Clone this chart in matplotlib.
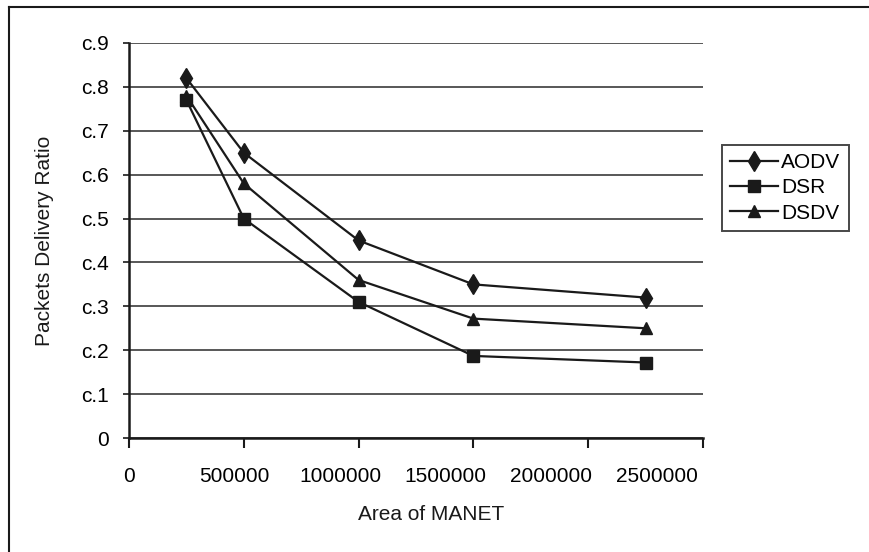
import matplotlib
matplotlib.use('Agg')
import matplotlib.pyplot as plt
from matplotlib.lines import Line2D
from matplotlib.transforms import ScaledTranslation

# -----------------------------------------------------------------------
# Data
# -----------------------------------------------------------------------
area = [250000, 500000, 1000000, 1500000, 2250000]
aodv = [0.82, 0.65, 0.45, 0.35, 0.32]
dsr = [0.77, 0.50, 0.31, 0.187, 0.172]
dsdv = [0.78, 0.58, 0.36, 0.272, 0.25]

x_ticks = [0, 500000, 1000000, 1500000, 2000000, 2500000]
x_tick_labels = ['0', '500000', '1000000', '1500000', '2000000', '2500000']
y_ticks = [0, 0.1, 0.2, 0.3, 0.4, 0.5, 0.6, 0.7, 0.8, 0.9]
y_tick_labels = ['0', 'c.1', 'c.2', 'c.3', 'c.4', 'c.5', 'c.6', 'c.7', 'c.8', 'c.9']

plt.rcParams['font.family'] = ['Liberation Sans', 'DejaVu Sans']
ink = '#1a1a1a'

fig = plt.figure(figsize=(8.7, 5.52), dpi=100)
ax = fig.add_axes([129/870, 1 - 438/552, 574/870, 395/552])

ax.plot(area, aodv, color=ink, lw=1.6, marker='d', ms=10, label='AODV', zorder=3)
ax.plot(area, dsr, color=ink, lw=1.6, marker='s', ms=8, label='DSR', zorder=3)
ax.plot(area, dsdv, color=ink, lw=1.6, marker='^', ms=9, label='DSDV', zorder=3)

ax.set_xlim(0, 2500000)
ax.set_ylim(0, 0.9)
ax.set_xticks(x_ticks)
ax.set_xticklabels(x_tick_labels)
ax.set_yticks(y_ticks)
ax.set_yticklabels(y_tick_labels)
ax.tick_params(axis='x', direction='out', length=7, width=1.5, color=ink,
               labelsize=15, pad=14)
ax.tick_params(axis='y', direction='out', length=4.5, width=1.2, color=ink,
               labelsize=15, pad=10)

# in the original the x labels are packed a little tighter than the ticks,
# drifting left as they go
for k, lab in enumerate(ax.get_xticklabels()):
    lab.set_transform(lab.get_transform() +
                      ScaledTranslation(-k * 0.093, 0, fig.dpi_scale_trans))

ax.yaxis.grid(True, color='#2a2a2a', lw=1.1)
ax.set_axisbelow(True)
for side in ('top', 'right'):
    ax.spines[side].set_visible(False)
for side in ('left', 'bottom'):
    ax.spines[side].set_linewidth(1.8)
    ax.spines[side].set_color(ink)

ax.set_xlabel('Area of MANET', fontsize=15, color=ink)
ax.xaxis.set_label_coords(0.526, -0.17)
ax.set_ylabel('Packets Delivery Ratio', fontsize=15, color=ink)
ax.yaxis.set_label_coords(-0.13, 0.5)

leg = ax.legend(loc='upper left', bbox_to_anchor=(1.033, 0.742),
                borderaxespad=0, fontsize=15, frameon=True, fancybox=False,
                handlelength=2.3, handletextpad=0.15, labelspacing=0.3,
                borderpad=0.4)
leg.get_frame().set_edgecolor(ink)
leg.get_frame().set_linewidth(1.4)

# outer frame of the original figure (left and top edges only)
fig.add_artist(Line2D([9/870, 9/870], [0, 1 - 7/552], color=ink, lw=1.5,
                      transform=fig.transFigure))
fig.add_artist(Line2D([9/870, 1], [1 - 7/552, 1 - 7/552], color=ink, lw=1.5,
                      transform=fig.transFigure))

fig.savefig('out.png', dpi=100)
